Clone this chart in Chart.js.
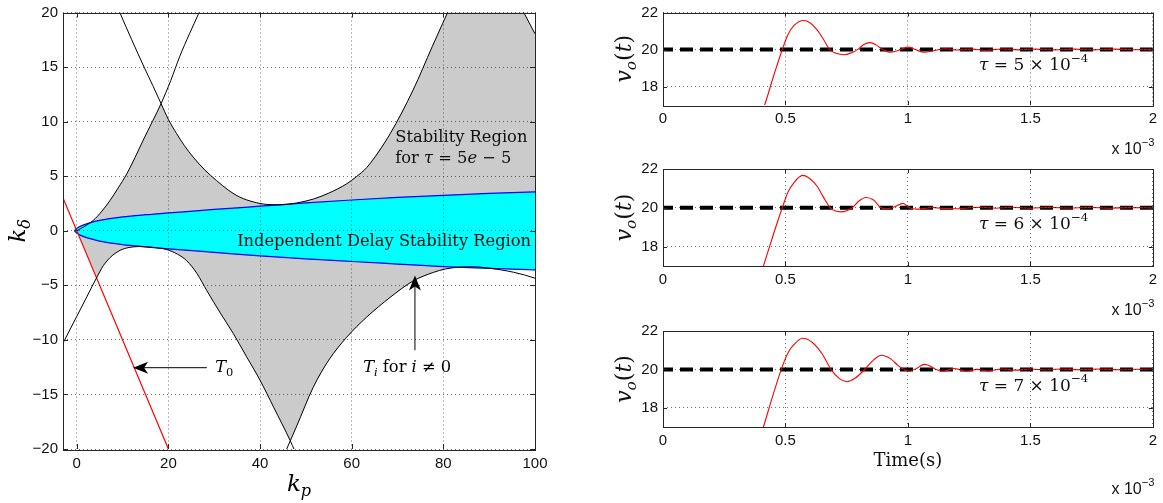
<!DOCTYPE html>
<html><head><meta charset="utf-8">
<script src="https://cdn.jsdelivr.net/npm/chart.js@4.4.1/dist/chart.umd.min.js"></script>
<style>
html,body{margin:0;padding:0;background:#fff;}
#wrap{position:relative;width:1163px;height:503px;overflow:hidden;background:#fff;}
canvas{position:absolute;left:0;top:0;width:1163px;height:503px;}
</style></head><body>
<div id="wrap">
<canvas id="cL" width="1163" height="503"></canvas>
<canvas id="c1" width="1163" height="503"></canvas>
<canvas id="c2" width="1163" height="503"></canvas>
<canvas id="c3" width="1163" height="503"></canvas>
</div>
<script>
// ---------------- Left panel data (k_p , k_delta) ----------------
const kpTicks = [0, 20, 40, 60, 80, 100];
const kpTickLabels = ['0', '20', '40', '60', '80', '100'];
const kdTicks = [-20, -15, -10, -5, 0, 5, 10, 15, 20];
const kdTickLabels = ['\u221220', '\u221215', '\u221210', '\u22125', '0', '5', '10', '15', '20'];

// T_i boundary curves
const kpA = [9.0, 9.4, 12.0, 14.8, 16.6, 18.4, 20.0, 21.8, 23.5, 25.4, 28.0, 30.5, 33.0, 35.6, 38.5, 41.5, 44.4, 48.0, 51.6, 55.0, 58.9, 61.0, 63.3, 68.4, 73.4, 77.6, 82.0];
const kdA = [20.4, 20.0, 17.5, 14.9, 13.3, 11.65, 10.2, 8.9, 7.8, 6.75, 5.55, 4.6, 3.75, 3.08, 2.65, 2.41, 2.38, 2.55, 2.9, 3.45, 4.3, 4.95, 5.8, 8.9, 12.9, 16.9, 21.0];
const kpB = [0, 1.5, 3.6, 5.5, 7.3, 9.0, 10.9, 12.7, 14.5, 16.5, 18.4, 20.5, 22.5, 24.6, 26.7, 27.5];
const kdB = [0, 0.35, 0.95, 1.8, 2.8, 3.9, 5.2, 6.7, 8.3, 10.0, 11.65, 13.75, 16.0, 18.05, 20.0, 20.8];
const kpC = [-3, 0, 2.2, 4.4, 5.8, 7.3, 9.0, 10.9, 13.8, 16.5, 19.6, 22.0, 24.0, 26.2, 28.4, 31.2, 34.2, 37.0, 40.0, 43.0, 46.6, 47.5];
const kdC = [-10.3, -7.85, -6.05, -4.25, -3.2, -2.45, -1.9, -1.58, -1.45, -1.52, -1.72, -2.15, -2.75, -3.9, -5.5, -7.45, -9.45, -11.5, -13.7, -16.2, -19.25, -20.1];
const kpD = [45.7, 46.6, 48.0, 51.6, 55.0, 58.9, 63.3, 68.4, 73.4, 77.8, 80.5, 83.6, 86.5, 89.5, 92.5, 95.3, 97.7, 100];
const kdD = [-20.1, -19.25, -17.9, -14.35, -11.85, -9.76, -7.9, -6.1, -4.6, -3.82, -3.5, -3.33, -3.3, -3.4, -3.58, -3.8, -4.05, -4.35];
const kpE = [96.3, 100];
const kdE = [21.0, 18.05];

// T_0 boundary (red)
const kpT0 = [-3, 20];
const kdT0 = [3, -20];

// Independent delay stability region (cyan)
const idrKp = [-0.5, 0, 1, 2.5, 5, 10, 15, 20, 30, 40, 50, 60, 70, 80, 90, 100];
const idrUpper = [0, 0.22, 0.45, 0.68, 0.95, 1.27, 1.47, 1.63, 1.95, 2.25, 2.55, 2.82, 3.05, 3.25, 3.42, 3.57];
const idrLower = [0, -0.22, -0.45, -0.68, -0.95, -1.27, -1.48, -1.66, -1.98, -2.3, -2.58, -2.82, -3.05, -3.28, -3.45, -3.58];

// ---------------- Right panels data (time in 1e-3 s, v_o) ----------------
const timeTicks = [0, 0.5, 1, 1.5, 2];
const timeTickLabels = ['0', '0.5', '1', '1.5', '2'];
const voTicks = [18, 20, 22];
const voTickLabels = ['18', '20', '22'];
const refTime = [0, 2];
const refVolt = [20, 20];
const tauValues = ['5', '6', '7'];

const t5 = [0.40, 0.415, 0.45, 0.487, 0.51, 0.535, 0.573, 0.60, 0.63, 0.655, 0.68, 0.71, 0.74, 0.77, 0.80, 0.82, 0.845, 0.87, 0.897, 0.925, 0.96, 1.0, 1.03, 1.065, 1.11, 1.155, 1.2, 1.26, 1.32, 1.38, 1.45, 1.52, 1.6, 1.68, 1.76, 1.84, 1.92, 2.0];
const v5 = [16.5, 17.0, 18.5, 20.0, 20.8, 21.3, 21.57, 21.45, 21.05, 20.55, 20.0, 19.78, 19.72, 19.82, 20.05, 20.27, 20.37, 20.25, 20.0, 19.85, 19.95, 20.13, 20.0, 19.85, 19.95, 20.04, 19.97, 20.02, 19.96, 20.03, 19.98, 20.02, 19.98, 20.02, 19.98, 20.02, 19.99, 20.0];
const t6 = [0.40, 0.41, 0.45, 0.487, 0.51, 0.535, 0.57, 0.60, 0.63, 0.655, 0.683, 0.705, 0.727, 0.75, 0.773, 0.80, 0.828, 0.86, 0.89, 0.911, 0.945, 0.98, 1.006, 1.035, 1.07, 1.1, 1.14, 1.2, 1.25, 1.3, 1.36, 1.42, 1.5, 1.58, 1.66, 1.74, 1.82, 1.9, 2.0];
const v6 = [16.6, 17.0, 18.6, 20.0, 20.8, 21.3, 21.67, 21.5, 21.1, 20.55, 20.0, 19.83, 19.79, 19.85, 20.0, 20.35, 20.53, 20.4, 20.0, 19.95, 20.05, 20.23, 20.0, 19.93, 19.97, 20.02, 19.97, 19.95, 20.0, 20.03, 19.98, 20.03, 19.98, 20.02, 19.99, 20.02, 19.98, 20.01, 20.0];
const t7 = [0.40, 0.41, 0.45, 0.483, 0.51, 0.535, 0.57, 0.61, 0.65, 0.686, 0.72, 0.751, 0.785, 0.824, 0.86, 0.892, 0.93, 0.96, 0.984, 1.003, 1.035, 1.067, 1.09, 1.115, 1.144, 1.188, 1.238, 1.282, 1.326, 1.384, 1.44, 1.5, 1.56, 1.62, 1.7, 1.78, 1.86, 1.94, 2.0];
const v7 = [16.6, 17.0, 18.7, 20.0, 20.85, 21.3, 21.62, 21.4, 20.8, 20.0, 19.52, 19.36, 19.55, 20.0, 20.5, 20.74, 20.55, 20.2, 20.0, 19.9, 20.05, 20.26, 20.18, 20.0, 19.9, 20.05, 19.9, 20.0, 19.92, 20.02, 19.96, 20.02, 19.97, 20.02, 19.98, 20.02, 19.98, 20.01, 20.0];

// ---------------- helpers ----------------
const SANS = '"Liberation Sans", Arial, Helvetica, sans-serif';
const SERIF = '"DejaVu Serif", "Liberation Serif", serif';
const P = (xs, ys) => xs.map((x, i) => ({x: x, y: ys[i]}));

function rich(ctx, x, y, parts, size, align) {
  const fontFor = p => {
    const s = (p.sub || p.sup) ? size * 0.7 : size;
    return (p.i ? 'italic ' : '') + s + 'px ' + (p.f || SERIF);
  };
  let w = 0;
  const ws = parts.map(p => { ctx.font = fontFor(p); const m = ctx.measureText(p.t).width; w += m; return m; });
  let cx = align === 'center' ? x - w / 2 : (align === 'right' ? x - w : x);
  ctx.textAlign = 'left';
  ctx.textBaseline = 'middle';
  parts.forEach((p, k) => {
    ctx.font = fontFor(p);
    const dy = p.sub ? size * 0.3 : (p.sup ? -size * 0.42 : 0);
    ctx.fillText(p.t, cx, y + dy);
    cx += ws[k];
  });
}

function arrow(ctx, x1, y1, x2, y2) {
  const ang = Math.atan2(y2 - y1, x2 - x1);
  const L = 15, W = 6, N = 4;
  ctx.strokeStyle = '#000'; ctx.fillStyle = '#000'; ctx.lineWidth = 1;
  ctx.beginPath();
  ctx.moveTo(x1, y1);
  ctx.lineTo(x2 - (L - N) * Math.cos(ang), y2 - (L - N) * Math.sin(ang));
  ctx.stroke();
  ctx.save();
  ctx.translate(x2, y2); ctx.rotate(ang);
  ctx.beginPath();
  ctx.moveTo(0, 0); ctx.lineTo(-L, -W); ctx.lineTo(-L + N, 0); ctx.lineTo(-L, W);
  ctx.closePath(); ctx.fill();
  ctx.restore();
}

function makeDecor(tickLen, extra) {
  return {
    id: 'decor',
    afterDraw(chart) {
      const ctx = chart.ctx, a = chart.chartArea, sx = chart.scales.x, sy = chart.scales.y;
      ctx.save();
      ctx.strokeStyle = '#262626'; ctx.lineWidth = 1;
      ctx.beginPath();
      sx.ticks.forEach(t => {
        const px = Math.round(sx.getPixelForValue(t.value)) + 0.5;
        ctx.moveTo(px, a.bottom); ctx.lineTo(px, a.bottom - tickLen);
        ctx.moveTo(px, a.top); ctx.lineTo(px, a.top + tickLen);
      });
      sy.ticks.forEach(t => {
        const py = Math.round(sy.getPixelForValue(t.value)) + 0.5;
        ctx.moveTo(a.left, py); ctx.lineTo(a.left + tickLen, py);
        ctx.moveTo(a.right, py); ctx.lineTo(a.right - tickLen, py);
      });
      ctx.stroke();
      ctx.strokeRect(Math.round(a.left) + 0.5, Math.round(a.top) + 0.5, Math.round(a.right - a.left), Math.round(a.bottom - a.top));
      ctx.fillStyle = '#111';
      extra(chart, ctx);
      ctx.restore();
    }
  };
}

function axisCommon(ticks, labels, padding, fit) {
  return {
    type: 'linear',
    afterBuildTicks: s => { s.ticks = ticks.map(v => ({value: v})); },
    afterFit: fit,
    ticks: {
      autoSkip: false, maxRotation: 0, padding: padding, color: '#111',
      font: {family: SANS, size: 15, lineHeight: 1},
      callback: v => labels[ticks.indexOf(v)]
    },
    grid: {color: 'rgba(0,0,0,0.55)', lineWidth: 1, drawTicks: false, z: 1},
    border: {display: false, dash: [1, 3]}
  };
}

// ---------------- Left chart ----------------
const ptsA = P(kpA, kdA), ptsB = P(kpB, kdB), ptsC = P(kpC, kdC), ptsD = P(kpD, kdD), ptsE = P(kpE, kdE);
const ptsUp = P(idrKp, idrUpper), ptsLo = P(idrKp, idrLower);
const upperGray = [].concat(ptsB.filter(p => p.x <= 18.4), ptsA.filter(p => p.x > 18.4), ptsE, ptsUp.slice().reverse());
const lowerGray = [].concat([ptsB[0]], ptsC.filter(p => p.x >= 4.4 && p.x <= 46.6), ptsD.filter(p => p.x > 46.6 && p.x <= 83.6), ptsLo.filter(p => p.x <= 80).reverse());
const cyanRegion = [].concat(ptsUp, ptsLo.slice().reverse());

const L_TOP = 12, L_BOTTOM = 449, L_LEFT = 63, L_RIGHT = 535;

function blackCurve(d) {
  return {data: d, borderColor: '#000', borderWidth: 1, pointRadius: 0, fill: false, cubicInterpolationMode: 'monotone', order: 1};
}

new Chart(document.getElementById('cL'), {
  type: 'line',
  data: {datasets: [
    {data: upperGray, fill: 'shape', backgroundColor: '#cbcbcb', borderColor: 'rgba(0,0,0,0)', borderWidth: 1, pointRadius: 0, tension: 0, order: 4},
    {data: lowerGray, fill: 'shape', backgroundColor: '#cbcbcb', borderColor: 'rgba(0,0,0,0)', borderWidth: 1, pointRadius: 0, tension: 0, order: 4},
    {data: cyanRegion, fill: 'shape', backgroundColor: '#00ffff', borderColor: 'rgba(0,0,0,0)', borderWidth: 1, pointRadius: 0, tension: 0, order: 3},
    {data: ptsUp, borderColor: '#0000ff', borderWidth: 1.2, pointRadius: 0, fill: false, cubicInterpolationMode: 'monotone', order: 2},
    {data: ptsLo, borderColor: '#0000ff', borderWidth: 1.2, pointRadius: 0, fill: false, cubicInterpolationMode: 'monotone', order: 2},
    blackCurve(ptsA), blackCurve(ptsB), blackCurve(ptsC), blackCurve(ptsD), blackCurve(ptsE),
    {data: P(kpT0, kdT0), borderColor: '#ff0000', borderWidth: 1.2, pointRadius: 0, fill: false, order: 1}
  ]},
  options: {
    responsive: false, animation: false, devicePixelRatio: 1,
    layout: {padding: {left: 0, right: 1163 - L_RIGHT, top: L_TOP, bottom: 0}},
    plugins: {legend: {display: false}, tooltip: {enabled: false}},
    events: [],
    scales: {
      x: Object.assign(axisCommon(kpTicks, kpTickLabels, 7, s => { s.height = 503 - L_BOTTOM; }), {min: -3, max: 100, position: 'bottom'}),
      y: Object.assign(axisCommon(kdTicks, kdTickLabels, 5, s => { s.width = L_LEFT; }), {min: -20, max: 20, position: 'left'})
    }
  },
  plugins: [makeDecor(5, (chart, ctx) => {
    const X = v => chart.scales.x.getPixelForValue(v), Y = v => chart.scales.y.getPixelForValue(v);
    const a = chart.chartArea;
    const fs = 16.3;
    rich(ctx, X(69.5), Y(8.55), [{t: 'Stability Region'}], fs, 'left');
    rich(ctx, X(69.5), Y(6.6), [{t: 'for '}, {t: '\u03c4', i: 1}, {t: ' = 5'}, {t: 'e', i: 1}, {t: ' \u2212 5'}], fs, 'left');
    rich(ctx, X(35.0), Y(-1.05), [{t: 'Independent Delay Stability Region'}], fs, 'left');
    arrow(ctx, X(28.4), Y(-12.55), X(12.3), Y(-12.55));
    rich(ctx, X(30.2), Y(-12.55), [{t: 'T', i: 1}, {t: '0', sub: 1}], fs, 'left');
    arrow(ctx, X(73.8), Y(-10.95), X(73.8), Y(-4.1));
    rich(ctx, X(62.5), Y(-12.55), [{t: 'T', i: 1}, {t: 'i', i: 1, sub: 1}, {t: ' for '}, {t: 'i', i: 1}, {t: ' \u2260 0'}], fs, 'left');
    rich(ctx, (a.left + a.right) / 2, 485, [{t: 'k', i: 1}, {t: 'p', i: 1, sub: 1}], 23, 'center');
    ctx.save(); ctx.translate(19, (a.top + a.bottom) / 2); ctx.rotate(-Math.PI / 2);
    rich(ctx, 0, 0, [{t: 'k', i: 1}, {t: '\u03b4', i: 1, sub: 1}], 23, 'center');
    ctx.restore();
  })]
});

// ---------------- Right charts ----------------
const R_LEFT = 663, R_RIGHT = 1154;
const panels = [
  {id: 'c1', t: t5, v: v5, tau: tauValues[0], top: 7, bottom: 105, expY: 150, xlabel: false},
  {id: 'c2', t: t6, v: v6, tau: tauValues[1], top: 169, bottom: 266, expY: 311, xlabel: false},
  {id: 'c3', t: t7, v: v7, tau: tauValues[2], top: 331, bottom: 427, expY: 490, xlabel: true}
];

panels.forEach(pn => {
  new Chart(document.getElementById(pn.id), {
    type: 'line',
    data: {datasets: [
      {data: P(pn.t, pn.v), borderColor: '#ff0000', borderWidth: 1.1, pointRadius: 0, fill: false, cubicInterpolationMode: 'monotone', order: 1},
      {data: P(refTime, refVolt), borderColor: '#000', borderWidth: 4, borderDash: [13, 7], borderDashOffset: 3, pointRadius: 0, fill: false, order: 2}
    ]},
    options: {
      responsive: false, animation: false, devicePixelRatio: 1,
      layout: {padding: {left: 560, right: 1163 - R_RIGHT, top: pn.top, bottom: 0}},
      plugins: {legend: {display: false}, tooltip: {enabled: false}},
      events: [],
      scales: {
        x: Object.assign(axisCommon(timeTicks, timeTickLabels, 6, s => { s.height = 503 - pn.bottom; }), {min: 0, max: 2, position: 'bottom'}),
        y: Object.assign(axisCommon(voTicks, voTickLabels, 5, s => { s.width = R_LEFT - 560; }), {min: 17, max: 22, position: 'left'})
      }
    },
    plugins: [makeDecor(4, (chart, ctx) => {
      const X = v => chart.scales.x.getPixelForValue(v), Y = v => chart.scales.y.getPixelForValue(v);
      const a = chart.chartArea;
      rich(ctx, X(1.29), Y(19.13), [{t: '\u03c4', i: 1}, {t: ' = ' + pn.tau + ' \u00d7 10'}, {t: '\u22124', sup: 1}], 17, 'left');
      ctx.save(); ctx.translate(625, (a.top + a.bottom) / 2); ctx.rotate(-Math.PI / 2);
      rich(ctx, 0, 0, [{t: 'v', i: 1}, {t: 'o', i: 1, sub: 1}, {t: '('}, {t: 't', i: 1}, {t: ')'}], 22, 'center');
      ctx.restore();
      rich(ctx, 1111.5, pn.expY, [{t: 'x 10', f: SANS}, {t: '\u22123', sup: 1, f: SANS}], 16, 'left');
      if (pn.xlabel) rich(ctx, (a.left + a.right) / 2, 461, [{t: 'Time(s)'}], 18, 'center');
    })]
  });
});
</script>
</body></html>
